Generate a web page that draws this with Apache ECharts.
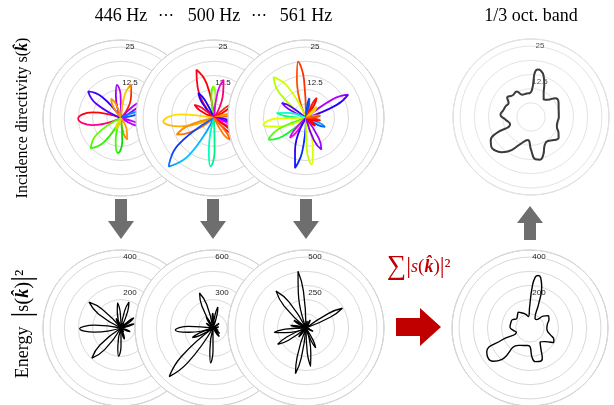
<!DOCTYPE html>
<html>
<head>
<meta charset="utf-8">
<script src="https://cdn.jsdelivr.net/npm/echarts@6/dist/echarts.min.js"></script>
<style>
html, body { margin: 0; padding: 0; background: #fff; }
#chart { width: 614px; height: 405px; }
</style>
</head>
<body>
<div id="chart"></div>
<script>
// ---- values: angles in degrees (0 = east, counter-clockwise), radii in axis units ----
const headerLabels = ['446 Hz', '500 Hz', '561 Hz'];
const bandLabel = '1/3 oct. band';

const ticksDir = [12.5, 25];
const ticksEn446 = [200, 400];
const ticksEn500 = [300, 600];
const ticksEn561 = [250, 500];
const ticksEnBand = [200, 400];

// incidence directivity lobes: [shoulder, tip, shoulder] as [angle, r]
const dir446 = [
  [[169, 10.3], [181, 15.1], [194, 10.3]],
  [[132, 10.1], [141, 14.9], [150, 10.1]],
  [[91, 8.0], [97, 11.8], [103, 8.0]],
  [[110, 5.2], [117, 7.6], [124, 5.2]],
  [[65, 8.4], [73, 12.3], [81, 8.4]],
  [[32, 6.5], [38, 9.6], [44, 6.5]],
  [[12, 6.0], [17, 8.8], [22, 6.0]],
  [[-28, 5.1], [-22, 7.5], [-16, 5.1]],
  [[279, 5.4], [286, 7.9], [293, 5.4]],
  [[257, 8.4], [265, 12.4], [273, 8.4]],
  [[214, 10.3], [225, 15.1], [235, 10.3]],
  [[239, 2.9], [246, 4.2], [253, 2.9]]
];
// lobe hues: [clockwise edge, counter-clockwise edge]
const dir446Hue = [
  ['#ff0000', '#ff0090'], ['#3000ff', '#5a00ff'], ['#c000ff', '#8a00ff'],
  ['#ff9000', '#ff9000'], ['#ff2000', '#ffd000'], ['#8000ff', '#b000ff'],
  ['#0040ff', '#0090ff'], ['#c000ff', '#c000ff'], ['#ff8000', '#ff9a00'],
  ['#40ff00', '#00e000'], ['#60ff00', '#30f000'], ['#e0e000', '#e0e000']
];

const dir500 = [
  [[102, 12.3], [110, 18.1], [118, 12.3]],
  [[86, 7.5], [91, 11.1], [97, 7.5]],
  [[70, 9.4], [76, 13.9], [82, 9.4]],
  [[117, 7.1], [122, 10.4], [128, 7.1]],
  [[140, 5.6], [146, 8.3], [152, 5.6]],
  [[174, 12.2], [184, 17.9], [194, 12.2]],
  [[197, 9.8], [204, 14.4], [211, 9.8]],
  [[217, 15.9], [227, 23.4], [236, 15.9]],
  [[261, 11.6], [266, 17.1], [271, 11.6]],
  [[32, 5.6], [37, 8.0], [42, 5.6]],
  [[8, 4.9], [12, 7.0], [16, 4.9]],
  [[345, 4.2], [350, 6.0], [355, 4.2]],
  [[330, 4.9], [335, 7.0], [340, 4.9]],
  [[315, 6.0], [320, 8.5], [325, 6.0]],
  [[300, 6.6], [306, 9.5], [311, 6.6]]
];
const dir500Hue = [
  ['#ff0000', '#ff0020'], ['#a0ff00', '#40ff00'], ['#ff0060', '#e000ff'],
  ['#2000ff', '#2000ff'], ['#ff0040', '#ff0000'], ['#ffe000', '#ffb000'],
  ['#ff9000', '#ff7000'], ['#1030ff', '#00c8ff'], ['#00ffc0', '#00f080'],
  ['#ff0000', '#ff2000'], ['#ff6000', '#ff9000'], ['#2000ff', '#4000ff'],
  ['#e000ff', '#ff00ff'], ['#ff0020', '#ff0000'], ['#ff8000', '#ff6000']
];

const dir561 = [
  [[93, 13.7], [98, 20.1], [103.5, 13.7]],
  [[120, 12.5], [128.5, 18.4], [137, 12.5]],
  [[143, 6.8], [148, 10.0], [153, 6.8]],
  [[165, 7.1], [170, 10.5], [175, 7.1]],
  [[181, 10.3], [189, 15.2], [197, 10.3]],
  [[202, 10.4], [210, 15.3], [218, 10.4]],
  [[226, 6.1], [231, 9.0], [236, 6.1]],
  [[251.5, 12.2], [257.6, 18.0], [263.5, 12.2]],
  [[271.5, 11.2], [277, 16.5], [282.5, 11.2]],
  [[289.5, 8.4], [296, 12.4], [302.5, 8.4]],
  [[330, 5.2], [335, 7.4], [340, 5.2]],
  [[345, 3.5], [350, 5.0], [355, 3.5]],
  [[315, 3.0], [320, 4.2], [325, 3.0]],
  [[23, 11.6], [29, 17.0], [35, 11.6]],
  [[77, 5.0], [80.5, 7.1], [84, 5.0]],
  [[58, 5.6], [62, 8.0], [66, 5.6]],
  [[41, 3.9], [45, 5.5], [49, 3.9]],
  [[5, 3.5], [10, 5.0], [15, 3.5]]
];
const dir561Hue = [
  ['#ff3000', '#ff5000'], ['#d0ff00', '#b0ff00'], ['#5000ff', '#8000ff'],
  ['#00ffd0', '#00ff80'], ['#e8ff00', '#d0ff00'], ['#60ff00', '#00ff30'],
  ['#d000ff', '#ff00e0'], ['#2000ff', '#0030ff'], ['#c0ff00', '#e0ff00'],
  ['#8000ff', '#a000ff'], ['#0050ff', '#00a0ff'], ['#ff0000', '#ff2000'],
  ['#ff0000', '#ff0000'], ['#2000ff', '#c000ff'], ['#0060ff', '#0040ff'],
  ['#ff0000', '#ff2000'], ['#ffe000', '#ffc000'], ['#ff4000', '#ff8000']
];

// band-averaged directivity (closed outline)
const dirBand = [
  [0, 9.8], [15, 10.1], [28, 11.0], [38, 10.8], [46, 8.5], [54, 7.6], [62, 9.5],
  [68, 12.5], [73, 15.2], [78, 16.7], [82, 16.9], [85, 15.8], [86, 13.2], [87, 10.5],
  [92, 8.5], [100, 8.4], [112, 8.5], [119, 10.3], [130, 10.0], [141, 10.8], [148, 9.3],
  [157, 9.7], [165, 10.0], [176, 10.8], [186, 9.0], [199, 7.8], [205, 13.5], [210, 16.4],
  [217, 17.5], [223, 17.3], [230, 16.2], [236, 14.7], [248, 10.4], [262, 8.2], [270, 11.5],
  [276, 15.0], [282, 15.4], [288, 14.0], [296, 11.0], [305, 10.3], [315, 11.5], [323, 12.2],
  [330, 11.2], [340, 9.7], [350, 9.5]
];

// energy lobes |s|^2
const en446 = [
  [[174, 150], [181, 233], [189, 150]],
  [[135, 150], [141, 232], [148, 150]],
  [[93, 93], [98, 143], [103, 93]],
  [[113, 39], [117, 60], [122, 39]],
  [[68, 100], [73, 153], [78, 100]],
  [[34, 60], [38, 92], [42, 60]],
  [[14, 51], [17, 78], [21, 51]],
  [[-26, 36], [-22, 56], [-18, 36]],
  [[282, 43], [287, 66], [292, 43]],
  [[260, 104], [265, 160], [270, 104]],
  [[219, 153], [226, 236], [233, 153]],
  [[243, 12], [246, 18], [249, 12]],
  [[300, 17], [305, 26], [310, 17]],
  [[55, 20], [58, 30], [61, 20]]
];
const en500 = [
  [[105, 206], [111, 317], [117, 206]],
  [[88, 80], [91, 123], [95, 80]],
  [[73, 118], [77, 182], [81, 118]],
  [[118, 70], [122, 108], [126, 70]],
  [[142, 45], [146, 69], [150, 45]],
  [[176, 207], [183, 319], [190, 207]],
  [[200, 125], [205, 192], [210, 125]],
  [[222, 360], [228, 553], [234, 360]],
  [[262, 192], [266, 296], [270, 192]],
  [[34, 42], [37, 64], [40, 42]],
  [[9, 32], [12, 49], [15, 32]],
  [[347, 24], [350, 36], [353, 24]],
  [[332, 32], [335, 49], [338, 32]],
  [[316, 47], [320, 72], [324, 47]],
  [[302, 58], [306, 90], [310, 58]]
];
const en561 = [
  [[94, 262], [98, 404], [102, 262]],
  [[123, 218], [129, 335], [135, 218]],
  [[144, 65], [148, 100], [152, 65]],
  [[166, 72], [170, 110], [174, 72]],
  [[183, 146], [188, 225], [193, 146]],
  [[205, 150], [210, 230], [215, 150]],
  [[227, 53], [231, 81], [235, 53]],
  [[253, 215], [257, 330], [261, 215]],
  [[273, 177], [277, 272], [281, 177]],
  [[292, 101], [296, 155], [300, 101]],
  [[331, 36], [335, 55], [339, 36]],
  [[346, 16], [350, 25], [354, 16]],
  [[24, 190], [28.5, 292], [33, 190]],
  [[77, 33], [80.5, 50], [84, 33]],
  [[58, 42], [62, 64], [66, 42]],
  [[41, 20], [45, 30], [49, 20]]
];
// band-summed energy (closed outline)
const enBand = [
  [0, 95], [12, 100], [25, 118], [34, 125], [42, 100], [52, 60], [62, 60], [70, 140],
  [74, 240], [78, 290], [81, 300], [84, 290], [87, 230], [91, 120], [98, 65], [108, 82],
  [117, 95], [126, 111], [135, 100], [145, 92], [155, 110], [165, 112], [177, 113],
  [188, 95], [197, 80], [203, 170], [209, 279], [216, 291], [222, 280], [228, 240],
  [236, 118], [250, 105], [262, 100], [270, 105], [274, 165], [279, 192], [285, 196],
  [292, 185], [298, 130], [306, 97], [318, 115], [328, 155], [334, 150], [342, 120],
  [352, 98]
];

// ---- layout ----
const R = 78;
const panels = [
  { center: [121, 118], max: 27.5, step: 5, ticks: ticksDir, labelColor: '#222' },
  { center: [214, 118], max: 27.5, step: 5, ticks: ticksDir, labelColor: '#222' },
  { center: [306, 118], max: 27.5, step: 5, ticks: ticksDir, labelColor: '#222' },
  { center: [531, 117], max: 27.5, step: 5, ticks: ticksDir, labelColor: '#555' },
  { center: [121, 328], max: 440, step: 80, ticks: ticksEn446, labelColor: '#222' },
  { center: [213, 328], max: 660, step: 120, ticks: ticksEn500, labelColor: '#222' },
  { center: [306, 328], max: 550, step: 100, ticks: ticksEn561, labelColor: '#222' },
  { center: [530, 328], max: 440, step: 80, ticks: ticksEnBand, labelColor: '#222' }
];

// angle axis runs 90..450 so that the radial labels sit on the upward spoke
const wrap = a => ((a - 90) % 360 + 360) % 360 + 90;

const polar = panels.map(p => ({ center: p.center, radius: R }));
const angleAxis = panels.map((p, i) => ({
  polarIndex: i, type: 'value', min: 90, max: 450, interval: 30,
  startAngle: 90, clockwise: false, z: 10 * i,
  axisLine: { lineStyle: { color: i === 3 ? '#cfcfcf' : '#c2c2c2', width: 1 } },
  axisTick: { show: false }, axisLabel: { show: false },
  splitLine: { lineStyle: { color: i === 3 ? '#e4e4e4' : '#d9d9d9', width: 1 } },
  splitArea: { show: true, areaStyle: { color: ['#ffffff'] } }
}));
const radiusAxis = panels.map((p, i) => ({
  polarIndex: i, type: 'value', min: 0, max: p.max, interval: p.step, z: 10 * i + 1,
  axisLine: { show: false }, axisTick: { show: false },
  axisLabel: {
    customValues: p.ticks, fontSize: 8, color: p.labelColor,
    fontFamily: 'Liberation Sans, Arial, sans-serif', margin: -9, align: 'center'
  },
  splitLine: { lineStyle: { color: i === 3 ? '#e4e4e4' : '#d9d9d9', width: 1 } }
}));

function lobeSeries(pi, lobes, hues, width) {
  return lobes.map((lobe, j) => ({
    type: 'line', coordinateSystem: 'polar', polarIndex: pi,
    data: [[lobe[0][0], 0], ...lobe, [lobe[2][0], 0]].map(([a, r]) => [r, wrap(a)]),
    smooth: 0.5, symbol: 'none', silent: true, z: 10 * pi + 2,
    lineStyle: { width, color: hues ? hues[j][0] : '#000' },
    _lobe: lobe, _hue: hues ? hues[j] : null
  }));
}
function loopSeries(pi, pts, width, color) {
  return [{
    type: 'line', coordinateSystem: 'polar', polarIndex: pi,
    data: pts.concat([pts[0], pts[1]]).map(([a, r]) => [r, wrap(a)]),
    smooth: 0.5, symbol: 'none', silent: true, z: 10 * pi + 2,
    lineStyle: { width, color }
  }];
}

const series = [].concat(
  lobeSeries(0, dir446, dir446Hue, 1.8),
  lobeSeries(1, dir500, dir500Hue, 1.8),
  lobeSeries(2, dir561, dir561Hue, 1.8),
  loopSeries(3, dirBand, 2, '#3a3a3a'),
  lobeSeries(4, en446, null, 1.3),
  lobeSeries(5, en500, null, 1.3),
  lobeSeries(6, en561, null, 1.3),
  loopSeries(7, enBand, 1.4, '#000')
);

const serif = '"Liberation Serif", "DejaVu Serif", serif';
const downArrow = x => [[x - 6, 199], [x + 6, 199], [x + 6, 221], [x + 13, 221], [x, 239], [x - 13, 221], [x - 6, 221]];
const upArrow = x => [[x - 6, 240], [x + 6, 240], [x + 6, 223], [x + 13, 223], [x, 206], [x - 13, 223], [x - 6, 223]];

const graphic = [
  ...headerLabels.map((t, i) => ({
    type: 'text', x: panels[i].center[0], y: 16, z: 100,
    style: { text: t, font: '18px ' + serif, fill: '#000', align: 'center', verticalAlign: 'middle' }
  })),
  { type: 'text', x: 166, y: 16, z: 100, style: { text: '\u22ef', font: '16px ' + serif, fill: '#000', align: 'center', verticalAlign: 'middle' } },
  { type: 'text', x: 259, y: 16, z: 100, style: { text: '\u22ef', font: '16px ' + serif, fill: '#000', align: 'center', verticalAlign: 'middle' } },
  { type: 'text', x: 531, y: 16, z: 100, style: { text: bandLabel, font: '18px ' + serif, fill: '#000', align: 'center', verticalAlign: 'middle' } },
  {
    type: 'text', x: 23, y: 118, rotation: Math.PI / 2, z: 100,
    style: {
      text: '{a|Incidence directivity s(}{k|k\u0302}{a|)}', align: 'center', verticalAlign: 'middle',
      rich: {
        a: { fontSize: 16, fontFamily: serif, fill: '#000' },
        k: { fontSize: 16, fontFamily: serif, fontWeight: 'bold', fontStyle: 'italic', fill: '#000' }
      }
    }
  },
  {
    type: 'text', x: 23, y: 324, rotation: Math.PI / 2, z: 100,
    style: {
      text: '{a|Energy  }{b||}{a|s}{p|(}{k|k\u0302}{p|)}{b||}{s|\u00b2}', align: 'center', verticalAlign: 'middle',
      rich: {
        a: { fontSize: 18, fontFamily: serif, fill: '#000' },
        p: { fontSize: 21, fontFamily: serif, fill: '#000' },
        b: { fontSize: 29, fontFamily: serif, fill: '#000' },
        k: { fontSize: 18, fontFamily: serif, fontWeight: 'bold', fontStyle: 'italic', fill: '#000' },
        s: { fontSize: 21, fontFamily: serif, fill: '#000' }
      }
    }
  },
  {
    type: 'text', x: 387, y: 267, z: 100,
    style: {
      text: '{m|\u2211}{b||}{i|s}{a|(}{k|k\u0302}{a|)}{b||}{s|\u00b2}', align: 'left', verticalAlign: 'middle',
      rich: {
        m: { fontSize: 27, fontFamily: serif, fill: '#c00000' },
        a: { fontSize: 19, fontFamily: serif, fill: '#c00000' },
        i: { fontSize: 18, fontFamily: serif, fontStyle: 'italic', fill: '#c00000' },
        b: { fontSize: 24, fontFamily: serif, fill: '#c00000' },
        k: { fontSize: 18, fontFamily: serif, fontWeight: 'bold', fontStyle: 'italic', fill: '#c00000' },
        s: { fontSize: 20, fontFamily: serif, fill: '#c00000' }
      }
    }
  },
  ...[121, 213, 306].map(x => ({ type: 'polygon', z: 100, shape: { points: downArrow(x) }, style: { fill: '#6e6e6e' } })),
  { type: 'polygon', z: 100, shape: { points: upArrow(530) }, style: { fill: '#6e6e6e' } },
  { type: 'polygon', z: 100, shape: { points: [[396, 318], [420, 318], [420, 308], [441, 327], [420, 346], [420, 336], [396, 336]] }, style: { fill: '#c00000' } }
];

const chart = echarts.init(document.getElementById('chart'), null, { renderer: 'canvas' });
const option = { animation: false, polar, angleAxis, radiusAxis, series, graphic };
chart.setOption(option);

// shade each coloured lobe across its width, from its clockwise to its counter-clockwise edge
option.series.forEach(s => {
  if (!s._hue) return;
  const a = chart.convertToPixel({ polarIndex: s.polarIndex }, [s._lobe[0][1], wrap(s._lobe[0][0])]);
  const b = chart.convertToPixel({ polarIndex: s.polarIndex }, [s._lobe[2][1], wrap(s._lobe[2][0])]);
  if (!a || !b) return;
  s.lineStyle.color = new echarts.graphic.LinearGradient(a[0], a[1], b[0], b[1], [
    { offset: 0, color: s._hue[0] }, { offset: 1, color: s._hue[1] }
  ], true);
});
chart.setOption({ series: option.series });
</script>
</body>
</html>
